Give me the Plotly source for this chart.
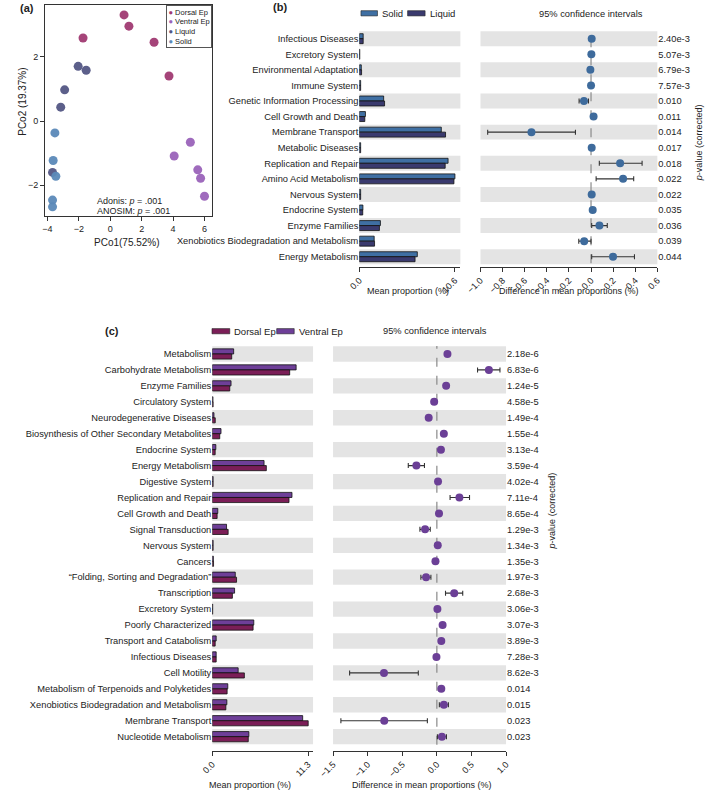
import plotly.graph_objects as go

W, H = 709, 791
FONT = "Liberation Sans, Arial, sans-serif"
TXT = "#222222"

def fx(px):
    return px / W

def fy(py):
    return 1 - py / H

# ---------------- (a) PCoA data ----------------
group_names = ["Dorsal Ep", "Ventral Ep", "Liquid", "Solid"]
group_colors = ["#a03a72", "#9a63b9", "#535684", "#5b89b8"]
dorsal_x = [0.88, 1.19, -1.73, 2.79, 3.74]
dorsal_y = [3.30, 2.95, 2.58, 2.45, 1.40]
ventral_x = [5.10, 4.07, 5.57, 5.75, 6.00]
ventral_y = [-0.66, -1.09, -1.52, -1.78, -2.34]
liquid_x = [-2.04, -1.53, -2.90, -3.15, -3.67]
liquid_y = [1.70, 1.58, 0.97, 0.43, -1.60]
solid_x = [-3.52, -3.63, -3.46, -3.67, -3.67]
solid_y = [-0.37, -1.23, -1.72, -2.46, -2.67]
pco_x_ticks = [-4, -2, 0, 2, 4, 6]
pco_y_ticks = [-2, 0, 2]

# ---------------- (b) Solid vs Liquid ----------------
cats_b = ["Infectious Diseases", "Excretory System", "Environmental Adaptation",
          "Immune System", "Genetic Information Processing", "Cell Growth and Death",
          "Membrane Transport", "Metabolic Diseases", "Replication and Repair",
          "Amino Acid Metabolism", "Nervous System", "Endocrine System",
          "Enzyme Families", "Xenobiotics Biodegradation and Metabolism",
          "Energy Metabolism"]
solid_mean = [0.43, 0.05, 0.22, 0.15, 2.70, 0.68, 9.09, 0.15, 9.84, 10.60,
              0.15, 0.40, 2.34, 1.65, 6.43]
liquid_mean = [0.43, 0.05, 0.25, 0.15, 2.80, 0.61, 9.56, 0.15, 9.52, 10.49,
               0.15, 0.38, 2.23, 1.69, 6.18]
diff_b = [0.006, 0.003, -0.006, 0.0, -0.064, 0.023, -0.539, 0.006, 0.263, 0.290,
          0.006, 0.015, 0.076, -0.062, 0.199]
ci_low_b = [0.006, 0.003, -0.006, 0.0, -0.108, 0.023, -0.935, 0.006, 0.075, 0.046,
            0.006, 0.015, 0.006, -0.111, 0.006]
ci_high_b = [0.006, 0.003, -0.006, 0.0, -0.023, 0.023, -0.141, 0.006, 0.462, 0.386,
             0.006, 0.015, 0.147, 0.000, 0.393]
pvals_b = ["2.40e-3", "5.07e-3", "6.79e-3", "7.57e-3", "0.010", "0.011", "0.014",
           "0.017", "0.018", "0.022", "0.022", "0.035", "0.036", "0.039", "0.044"]
series_b = ["Solid", "Liquid"]
colors_b = ["#3f6fa3", "#3a3a6e"]
ci_color_b = "#3e6b9c"

# ---------------- (c) Dorsal vs Ventral ----------------
cats_c = ["Metabolism", "Carbohydrate Metabolism", "Enzyme Families",
          "Circulatory System", "Neurodegenerative Diseases",
          "Biosynthesis of Other Secondary Metabolites", "Endocrine System",
          "Energy Metabolism", "Digestive System", "Replication and Repair",
          "Cell Growth and Death", "Signal Transduction", "Nervous System", "Cancers",
          "\u201cFolding, Sorting and Degradation\u201d", "Transcription",
          "Excretory System", "Poorly Characterized", "Transport and Catabolism",
          "Infectious Diseases", "Cell Motility",
          "Metabolism of Terpenoids and Polyketides",
          "Xenobiotics Biodegradation and Metabolism", "Membrane Transport",
          "Nucleotide Metabolism"]
dorsal_mean = [2.29, 9.12, 2.06, 0.10, 0.35, 0.88, 0.34, 6.37, 0.10, 9.04, 0.57, 1.87,
               0.10, 0.15, 2.86, 2.37, 0.05, 4.81, 0.34, 0.46, 3.78, 1.75, 1.60, 11.30,
               4.24]
ventral_mean = [2.52, 9.88, 2.21, 0.08, 0.20, 1.03, 0.42, 6.10, 0.10, 9.39, 0.65, 1.68,
                0.10, 0.13, 2.71, 2.63, 0.05, 4.89, 0.46, 0.46, 3.05, 1.83, 1.72, 10.65,
                4.31]
diff_c = [0.153, 0.752, 0.134, -0.039, -0.118, 0.101, 0.059, -0.296, 0.017, 0.326,
          0.031, -0.170, 0.013, -0.020, -0.156, 0.251, 0.008, 0.083, 0.064, -0.006,
          -0.764, 0.064, 0.101, -0.760, 0.073]
ci_low_c = [0.153, 0.588, 0.134, -0.039, -0.118, 0.101, 0.059, -0.413, 0.017, 0.191,
            0.031, -0.245, 0.013, -0.020, -0.231, 0.125, 0.008, 0.060, 0.050, -0.006,
            -1.261, 0.050, 0.036, -1.387, 0.008]
ci_high_c = [0.153, 0.912, 0.134, -0.039, -0.118, 0.101, 0.059, -0.179, 0.017, 0.472,
             0.031, -0.095, 0.013, -0.020, -0.086, 0.374, 0.008, 0.106, 0.078, -0.006,
             -0.268, 0.078, 0.167, -0.137, 0.139]
pvals_c = ["2.18e-6", "6.83e-6", "1.24e-5", "4.58e-5", "1.49e-4", "1.55e-4", "3.13e-4",
           "3.59e-4", "4.02e-4", "7.11e-4", "8.65e-4", "1.29e-3", "1.34e-3", "1.35e-3",
           "1.97e-3", "2.68e-3", "3.06e-3", "3.07e-3", "3.89e-3", "7.28e-3", "8.62e-3",
           "0.014", "0.015", "0.023", "0.023"]
series_c = ["Dorsal Ep", "Ventral Ep"]
colors_c = ["#7b1e57", "#6e3f98"]
ci_color_c = "#6b3f96"

fig = go.Figure()

# ---- (a) scatter ----
pco_sets = [(dorsal_x, dorsal_y), (ventral_x, ventral_y), (liquid_x, liquid_y), (solid_x, solid_y)]
for name, col, (xs, ys) in zip(group_names, group_colors, pco_sets):
    fig.add_trace(go.Scatter(x=xs, y=ys, mode="markers", name=name, showlegend=False,
                             marker=dict(size=9, color=col, opacity=0.95, line=dict(width=0)),
                             xaxis="x", yaxis="y"))

# ---- (b) bars ----
fig.add_trace(go.Bar(y=cats_b, x=solid_mean, orientation="h", name=series_b[0],
                     marker=dict(color=colors_b[0], line=dict(color="#111", width=0.8)),
                     xaxis="x2", yaxis="y2", showlegend=False))
fig.add_trace(go.Bar(y=cats_b, x=liquid_mean, orientation="h", name=series_b[1],
                     marker=dict(color=colors_b[1], line=dict(color="#111", width=0.8)),
                     xaxis="x2", yaxis="y2", showlegend=False))

def ci_trace(diff, lo, hi, cats, color, xa, ya):
    plus = [h - d for d, h in zip(diff, hi)]
    minus = [d - l for d, l in zip(diff, lo)]
    return go.Scatter(x=diff, y=cats, mode="markers", showlegend=False,
                      marker=dict(size=8, color=color),
                      error_x=dict(type="data", symmetric=False, array=plus, arrayminus=minus,
                                   color="#333333", thickness=1.1, width=2.5),
                      xaxis=xa, yaxis=ya)

fig.add_trace(ci_trace(diff_b, ci_low_b, ci_high_b, cats_b, ci_color_b, "x3", "y3"))

# ---- (c) bars (ventral drawn on top row of each pair) ----
fig.add_trace(go.Bar(y=cats_c, x=ventral_mean, orientation="h", name=series_c[1],
                     marker=dict(color=colors_c[1], line=dict(color="#111", width=0.8)),
                     xaxis="x4", yaxis="y4", showlegend=False))
fig.add_trace(go.Bar(y=cats_c, x=dorsal_mean, orientation="h", name=series_c[0],
                     marker=dict(color=colors_c[0], line=dict(color="#111", width=0.8)),
                     xaxis="x4", yaxis="y4", showlegend=False))
fig.add_trace(ci_trace(diff_c, ci_low_c, ci_high_c, cats_c, ci_color_c, "x5", "y5"))

# ---- shapes: bands + zero lines ----
shapes = []
def bands(n, xref, yref):
    for i in range(0, n, 2):
        shapes.append(dict(type="rect", xref=xref + " domain", x0=0, x1=1, yref=yref,
                           y0=i - 0.48, y1=i + 0.48, fillcolor="#e4e4e4",
                           line=dict(width=0), layer="below"))
bands(len(cats_b), "x2", "y2")
bands(len(cats_b), "x3", "y3")
bands(len(cats_c), "x4", "y4")
bands(len(cats_c), "x5", "y5")
for xr, yr in [("x3", "y3"), ("x5", "y5")]:
    shapes.append(dict(type="line", xref=xr, x0=0, x1=0, yref=yr + " domain", y0=0.015, y1=1,
                       line=dict(color="#8a8a8a", width=1.2, dash="dash"), layer="below"))

axis_common = dict(showgrid=False, zeroline=False, linecolor="#333", linewidth=1,
                   tickcolor="#333", tickfont=dict(size=9, color=TXT, family=FONT))
cat_font = dict(size=9.3, color=TXT, family=FONT)
p_font = dict(size=9.3, color=TXT, family=FONT)

rows_b = len(cats_b)
rows_c = len(cats_c)
range_b = [rows_b - 1 + 0.64, -0.5]
range_c = [rows_c - 1 + 0.88, -0.5]
max_b = max(solid_mean + liquid_mean)
max_c = max(dorsal_mean + ventral_mean)

layout = dict(
    width=W, height=H, margin=dict(l=0, r=0, t=0, b=0),
    paper_bgcolor="white", plot_bgcolor="white",
    font=dict(family=FONT, size=9, color=TXT),
    barmode="group", bargap=0.36, bargroupgap=0,
    showlegend=False,
    xaxis=dict(**axis_common, domain=[fx(31), fx(203)], range=[-4.142, 6.494],
               tickvals=pco_x_ticks, ticks="outside", ticklen=4, showline=True, mirror=True,
               anchor="y"),
    yaxis=dict(**axis_common, domain=[fy(216), fy(5)], range=[-2.955, 3.608],
               tickvals=pco_y_ticks, ticks="outside", ticklen=4, showline=True, mirror=True,
               anchor="x"),
    xaxis2=dict(**axis_common, domain=[fx(354.3), fx(458.3)], range=[0, max_b * 104 / 98.4],
                tickvals=[0, max_b], ticktext=["0.0", f"{max_b:.1f}"], tickangle=-45,
                ticks="outside", ticklen=4, showline=True, anchor="y2"),
    yaxis2=dict(showgrid=False, zeroline=False, tickfont=cat_font,
                domain=[fy(266.7), fy(30.9)], range=range_b, type="category",
                categoryorder="array", categoryarray=cats_b, showline=False, ticks="",
                anchor="x2"),
    xaxis3=dict(**axis_common, domain=[fx(479), fx(661)], range=[-1.0, 0.6], dtick=0.2,
                tick0=0, tickformat=".1f", tickangle=-45, ticks="outside", ticklen=4,
                showline=True, anchor="y3"),
    yaxis3=dict(showgrid=False, zeroline=False, tickfont=p_font,
                domain=[fy(266.7), fy(30.9)], range=range_b, type="category",
                categoryorder="array", categoryarray=cats_b, showline=False, ticks="",
                side="right", tickmode="array", tickvals=cats_b, ticktext=pvals_b,
                anchor="x3"),
    xaxis4=dict(**axis_common, domain=[fx(203), fx(306.7)], range=[0, max_c * 103.7 / 98.7],
                tickvals=[0, max_c], ticktext=["0.0", f"{max_c:.1f}"], tickangle=-45,
                ticks="outside", ticklen=4, showline=True, anchor="y4"),
    yaxis4=dict(showgrid=False, zeroline=False, tickfont=cat_font,
                domain=[fy(750.7), fy(346)], range=range_c, type="category",
                categoryorder="array", categoryarray=cats_c, showline=False, ticks="",
                anchor="x4"),
    xaxis5=dict(**axis_common, domain=[fx(327.3), fx(505.3)], range=[-1.5, 1.0], dtick=0.5,
                tick0=0, tickformat=".1f", tickangle=-45, ticks="outside", ticklen=4,
                showline=True, anchor="y5"),
    yaxis5=dict(showgrid=False, zeroline=False, tickfont=p_font,
                domain=[fy(750.7), fy(346)], range=range_c, type="category",
                categoryorder="array", categoryarray=cats_c, showline=False, ticks="",
                side="right", tickmode="array", tickvals=cats_c, ticktext=pvals_c,
                anchor="x5"),
)
fig.update_layout(**layout)

ann = []
def text(x, y, s, size=9, xanchor="center", yanchor="middle", angle=0, **kw):
    ann.append(dict(x=fx(x), y=fy(y), xref="paper", yref="paper", text=s, showarrow=False,
                    xanchor=xanchor, yanchor=yanchor, textangle=angle,
                    font=dict(size=size, color=TXT, family=FONT), **kw))

# panel labels
text(3, 8, "<b>(a)</b>", size=11, xanchor="left")
text(273, 7, "<b>(b)</b>", size=11)
text(100, 331, "<b>(c)</b>", size=11)

# (a) texts
text(115, 242, "PCo1(75.52%)", size=10)
text(8, 102, "PCo2 (19.37%)", size=10, angle=-90)
text(82, 201, "Adonis: <i>p</i> = .001", size=9, xanchor="left")
text(82, 211, "ANOSIM: <i>p</i> = .001", size=9, xanchor="left")
legend_lines = "<br>".join(
    f"<span style='color:{c}'>\u25CF</span> {n}" for n, c in zip(group_names, group_colors))
ann.append(dict(x=fx(203), y=fy(5), xref="paper", yref="paper", text=legend_lines,
                showarrow=False, xanchor="right", yanchor="top", align="left",
                font=dict(size=7.5, color=TXT, family=FONT), bordercolor="#555",
                borderwidth=1, borderpad=1.5, bgcolor="white"))

# (b) texts
text(404, 291, "Mean proportion (%)", size=9)
text(570, 291, "Difference in mean proportions (%)", size=9)
text(593, 14, "95% confidence intervals", size=9.3)
text(704, 143, "<i>p</i>-value (corrected)", size=9, angle=-90)

# (c) texts
text(242, 785, "Mean proportion (%)", size=9)
text(418, 785, "Difference in mean proportions (%)", size=9)
text(432.5, 331.5, "95% confidence intervals", size=9.3)
text(553, 511, "<i>p</i>-value (corrected)", size=9, angle=-90)

# custom legends (b) and (c)
legend_specs = [
    (series_b, colors_b, 13.3, [(356, 373), (404, 422)]),
    (series_c, colors_c, 331.2, [(202.7, 221), (269.3, 287.3)]),
]
for names, cols, yc, spans in legend_specs:
    for name, col, (x0, x1) in zip(names, cols, spans):
        shapes.append(dict(type="rect", xref="paper", yref="paper", x0=fx(x0), x1=fx(x1),
                           y0=fy(yc + 2.6), y1=fy(yc - 2.6), fillcolor=col,
                           line=dict(color="#222", width=0.6)))
        text(x1 + 2.5, yc, name, size=9.5, xanchor="left")

fig.update_layout(annotations=ann, shapes=shapes)
fig.write_html("out.html", config={"displayModeBar": False},
               post_script="document.body.style.margin='0';")
